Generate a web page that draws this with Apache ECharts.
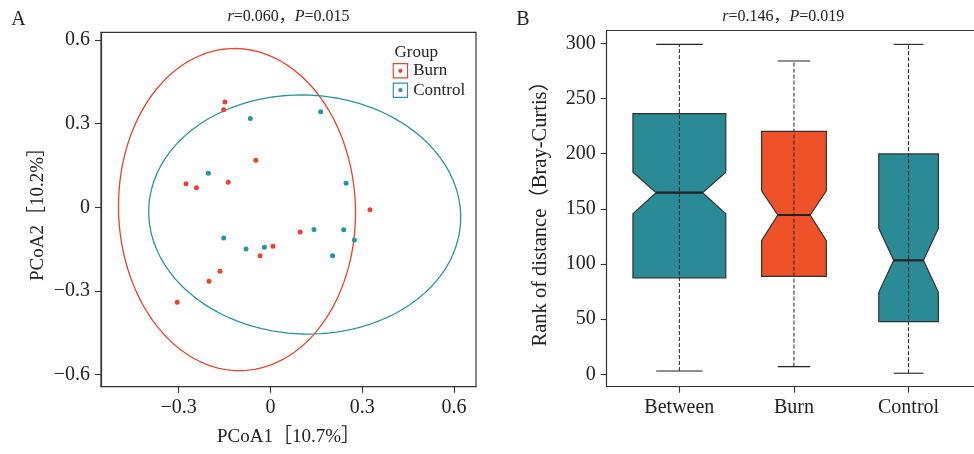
<!DOCTYPE html>
<html>
<head>
<meta charset="utf-8">
<title>PCoA / Bray-Curtis</title>
<script src="https://cdn.jsdelivr.net/npm/echarts@6/dist/echarts.min.js"></script>
<style>
  html, body { margin: 0; padding: 0; background: #fff; }
  #main { width: 974px; height: 454px; }
</style>
</head>
<body>
<div id="main"></div>
<script>
// A: PCoA scores [PCoA1, PCoA2]
const burnPoints = [
  [-0.149, 0.378], [-0.153, 0.350], [-0.048, 0.169], [-0.276, 0.085],
  [-0.242, 0.070], [-0.138, 0.090], [0.325, -0.008], [0.097, -0.088],
  [0.008, -0.139], [-0.034, -0.173], [-0.165, -0.229], [-0.201, -0.265],
  [-0.305, -0.340]
];
const controlPoints = [
  [-0.066, 0.319], [0.164, 0.343], [-0.203, 0.122], [0.247, 0.087],
  [-0.153, -0.110], [-0.080, -0.149], [-0.020, -0.143], [0.142, -0.079],
  [0.239, -0.080], [0.274, -0.117], [0.203, -0.173]
];
// group ellipses: centre x, centre y, half axis u (x, y), half axis v (x, y)
const burnEllipse = [-0.1095, -0.0079, 0.3873, -0.0047, -0.0049, 0.5776];
const controlEllipse = [0.1118, -0.0255, 0.5098, -0.0108, 0.001, 0.4285];
const pcoaTicks = [-0.6, -0.3, 0, 0.3, 0.6];

// B: rank of distance (Bray-Curtis)
const groups = ['Between', 'Burn', 'Control'];
const whiskerLow = [3, 7, 1];
const q1 = [87.5, 88.8, 47.7];
const notchLow = [145.6, 121.1, 74.3];
const median = [164.6, 144.4, 103.3];
const notchHigh = [183.1, 166.4, 132.3];
const q3 = [236.2, 220.2, 199.7];
const whiskerHigh = [299, 284, 299];
const boxWidth = [0.81, 0.565, 0.52];
const rankTicks = [0, 50, 100, 150, 200, 250, 300];

const RED = '#e8432c';
const TEAL = '#2a949d';
const boxColors = ['#2a8a95', '#ef5128', '#2a8a95'];
const FONT = '"Liberation Serif", "Noto Sans CJK SC", serif';
const INK = '#222';

var myChart = echarts.init(document.getElementById('main'));

function ellipseItem(e, color) {
  return function (params, api) {
    let pts = [];
    for (let k = 0; k <= 180; k++) {
      let t = k / 180 * Math.PI * 2;
      pts.push(api.coord([
        e[0] + e[2] * Math.cos(t) + e[4] * Math.sin(t),
        e[1] + e[3] * Math.cos(t) + e[5] * Math.sin(t)
      ]));
    }
    return {
      type: 'polyline',
      shape: { points: pts },
      style: { stroke: color, fill: null, lineWidth: 1.3 }
    };
  };
}

function boxItem(params, api) {
  let x = api.value(0), w = api.value(8);
  let lo = api.value(1), a = api.value(2), nl = api.value(3), m = api.value(4);
  let nh = api.value(5), b = api.value(6), hi = api.value(7);
  let L = x - w / 2, R = x + w / 2, l4 = x - w / 4, r4 = x + w / 4;
  let poly = [[L, b], [R, b], [R, nh], [r4, m], [R, nl], [R, a], [L, a], [L, nl], [l4, m], [L, nh]]
    .map(p => api.coord(p));
  let p = (xx, yy) => api.coord([xx, yy]);
  return {
    type: 'group',
    children: [
      { type: 'polygon', shape: { points: poly },
        style: { fill: boxColors[params.dataIndex], stroke: '#333', lineWidth: 1.2 } },
      { type: 'line', shape: { x1: p(x, lo)[0], y1: p(x, lo)[1], x2: p(x, hi)[0], y2: p(x, hi)[1] },
        style: { stroke: INK, lineWidth: 1, lineDash: [4, 2] } },
      { type: 'line', shape: { x1: p(l4, m)[0], y1: p(l4, m)[1], x2: p(r4, m)[0], y2: p(r4, m)[1] },
        style: { stroke: INK, lineWidth: 2.2 } },
      { type: 'line', shape: { x1: p(l4, hi)[0], y1: p(l4, hi)[1], x2: p(r4, hi)[0], y2: p(r4, hi)[1] },
        style: { stroke: INK, lineWidth: 1.1 } },
      { type: 'line', shape: { x1: p(l4, lo)[0], y1: p(l4, lo)[1], x2: p(r4, lo)[0], y2: p(r4, lo)[1] },
        style: { stroke: INK, lineWidth: 1.1 } }
    ]
  };
}

let boxData = groups.map((g, i) => [i + 1, whiskerLow[i], q1[i], notchLow[i], median[i],
  notchHigh[i], q3[i], whiskerHigh[i], boxWidth[i]]);

function numLabel(v) {
  if (Math.abs(v) < 1e-9) return '0';
  return (v < 0 ? '\u2212' : '') + Math.abs(v).toFixed(1);
}

function axis(extra) {
  let o = {
    axisLine: { show: true, onZero: false, lineStyle: { color: '#333', width: 1.2 } },
    axisTick: { show: true, length: 6, lineStyle: { color: '#333', width: 1.1 } },
    axisLabel: { color: INK, fontFamily: FONT, fontSize: 20, margin: 11, showMinLabel: true, showMaxLabel: true },
    splitLine: { show: false },
    nameLocation: 'middle',
    nameTextStyle: { color: INK, fontFamily: FONT, fontSize: 19 }
  };
  Object.keys(extra).forEach(k => {
    if (typeof extra[k] === 'object' && o[k] && !Array.isArray(extra[k])) {
      o[k] = Object.assign(o[k], extra[k]);
    } else {
      o[k] = extra[k];
    }
  });
  return o;
}

let option = {
  animation: false,
  backgroundColor: '#fff',
  grid: [
    { left: 101, top: 32.3, width: 375, height: 354.4, show: true, borderColor: '#333', borderWidth: 1.2 },
    // panel B runs past the right edge of the picture, so no right border
    { left: 606.7, top: 30.7, width: 367.3, height: 356, show: false }
  ],
  xAxis: [
    axis({
      type: 'value', gridIndex: 0, min: -0.554, max: 0.6716,
      name: 'PCoA1［10.7%］', nameGap: 41,
      axisTick: { customValues: [-0.3, 0, 0.3, 0.6] },
      axisLabel: { customValues: [-0.3, 0, 0.3, 0.6], formatter: numLabel }
    }),
    axis({
      type: 'value', gridIndex: 1, min: 0.366, max: 3.571,
      axisTick: { customValues: [1, 2, 3] },
      axisLabel: { customValues: [1, 2, 3], formatter: v => groups[Math.round(v) - 1] }
    }),
    axis({
      type: 'value', gridIndex: 1, min: 0.366, max: 3.571, position: 'top',
      axisTick: { show: false },
      axisLabel: { show: false }
    })
  ],
  yAxis: [
    axis({
      type: 'value', gridIndex: 0, min: -0.6429, max: 0.6278,
      name: 'PCoA2［10.2%］', nameGap: 53,
      axisTick: { customValues: pcoaTicks },
      axisLabel: { customValues: pcoaTicks, formatter: numLabel }
    }),
    axis({
      type: 'value', gridIndex: 1, min: -11.2, max: 311.4,
      name: 'Rank of distance（Bray-Curtis）', nameGap: 56,
      nameTextStyle: { fontSize: 20.5 },
      axisTick: { customValues: rankTicks },
      axisLabel: { customValues: rankTicks }
    })
  ],
  legend: {
    orient: 'vertical',
    left: 392.7,
    top: 62.3,
    padding: 0,
    itemWidth: 15.6,
    itemHeight: 15.4,
    itemGap: 2.4,
    data: ['Burn', 'Control'],
    icon: 'path://M0,0L16,0L16,16L0,16Z M1.2,1.2L1.2,14.8L14.8,14.8L14.8,1.2Z M8,5.8A2.2,2.2,0,1,1,7.99,5.8Z',
    textStyle: { color: INK, fontFamily: FONT, fontSize: 17 }
  },
  graphic: [
    { type: 'text', x: 18.5, y: 20, style: { text: 'A', font: '20px ' + FONT, fill: INK, align: 'center', verticalAlign: 'middle' } },
    { type: 'text', x: 523, y: 19.5, style: { text: 'B', font: '20px ' + FONT, fill: INK, align: 'center', verticalAlign: 'middle' } },
    { type: 'text', x: 394.5, y: 52.5, style: { text: 'Group', font: '17px ' + FONT, fill: INK, align: 'left', verticalAlign: 'middle' } },
    { type: 'text', x: 288.5, y: 16.5, style: {
        text: '{i|r}{n|=0.060，}{i|P}{n|=0.015}', align: 'center', verticalAlign: 'middle',
        rich: { i: { fontFamily: FONT, fontSize: 16, fontStyle: 'italic', fill: INK },
                n: { fontFamily: FONT, fontSize: 16, fill: INK } } } },
    { type: 'text', x: 783.3, y: 16.5, style: {
        text: '{i|r}{n|=0.146，}{i|P}{n|=0.019}', align: 'center', verticalAlign: 'middle',
        rich: { i: { fontFamily: FONT, fontSize: 16, fontStyle: 'italic', fill: INK },
                n: { fontFamily: FONT, fontSize: 16, fill: INK } } } }
  ],
  series: [
    {
      name: 'burnEllipse', type: 'custom', xAxisIndex: 0, yAxisIndex: 0,
      renderItem: ellipseItem(burnEllipse, RED), data: [[burnEllipse[0], burnEllipse[1]]], silent: true
    },
    {
      name: 'controlEllipse', type: 'custom', xAxisIndex: 0, yAxisIndex: 0,
      renderItem: ellipseItem(controlEllipse, TEAL), data: [[controlEllipse[0], controlEllipse[1]]], silent: true
    },
    {
      name: 'Burn', type: 'scatter', xAxisIndex: 0, yAxisIndex: 0,
      symbolSize: 5, itemStyle: { color: RED, opacity: 1 }, data: burnPoints
    },
    {
      name: 'Control', type: 'scatter', xAxisIndex: 0, yAxisIndex: 0,
      symbolSize: 5, itemStyle: { color: TEAL, opacity: 1 }, data: controlPoints
    },
    {
      name: 'rank', type: 'custom', xAxisIndex: 1, yAxisIndex: 1,
      renderItem: boxItem, data: boxData,
      encode: { x: 0, y: [1, 7] }
    }
  ]
};
myChart.setOption(option);
</script>
</body>
</html>
